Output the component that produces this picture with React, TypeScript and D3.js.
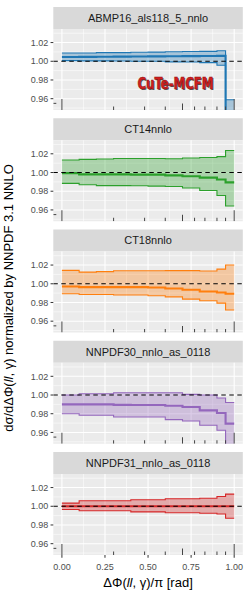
import React from "react";
import * as d3 from "d3";

// bin edges in dPhi/pi
const binEdges = [0, 0.1, 0.2, 0.3, 0.4, 0.5, 0.6, 0.7, 0.8, 0.9, 0.95, 1.0];

const pdfNames = [
  "ABMP16_als118_5_nnlo",
  "CT14nnlo",
  "CT18nnlo",
  "NNPDF30_nnlo_as_0118",
  "NNPDF31_nnlo_as_0118",
];
const pdfColors = ["#1f77b4", "#2ca02c", "#ff7f0e", "#9467bd", "#d62728"];

// ratio to NNPDF 3.1 NNLO, per bin
const abmpUpper = [1.0088, 1.0088, 1.0092, 1.0092, 1.0097, 1.0098, 1.0102, 1.0104, 1.0106, 1.0112, 0.9589];
const abmpCentral = [1.0046, 1.0047, 1.0049, 1.005, 1.0051, 1.0052, 1.0054, 1.0055, 1.0056, 1.0058, 0.93];
const abmpLower = [1.0007, 1.0004, 1.0004, 1.0003, 1.0, 1.0, 0.9994, 0.9992, 0.9986, 0.9957, 0.9];

const ct14Upper = [1.0134, 1.014, 1.0145, 1.015, 1.015, 1.015, 1.0148, 1.0155, 1.016, 1.017, 1.0236];
const ct14Central = [0.9993, 0.998, 0.998, 0.998, 0.9978, 0.9978, 0.997, 0.996, 0.9945, 0.9925, 0.9895];
const ct14Lower = [0.9884, 0.987, 0.986, 0.986, 0.9858, 0.9855, 0.985, 0.9835, 0.9807, 0.9755, 0.9642];

const ct18Upper = [1.0143, 1.0125, 1.013, 1.0139, 1.0139, 1.0139, 1.014, 1.014, 1.0136, 1.0157, 1.02];
const ct18Central = [0.9971, 0.9964, 0.9964, 0.9964, 0.9964, 0.996, 0.995, 0.9936, 0.9918, 0.9907, 0.9893];
const ct18Lower = [0.9893, 0.9886, 0.9886, 0.988, 0.988, 0.9872, 0.986, 0.9836, 0.9818, 0.9793, 0.972];

const nn30Upper = [1.0, 1.0014, 1.0014, 1.0025, 1.0025, 1.0025, 1.0025, 1.0007, 1.0, 0.9968, 0.992];
const nn30Central = [0.99, 0.99, 0.99, 0.9895, 0.9893, 0.9893, 0.9885, 0.9872, 0.9836, 0.9807, 0.9694];
const nn30Lower = [0.98, 0.9783, 0.9783, 0.9765, 0.9765, 0.9765, 0.9737, 0.9722, 0.9676, 0.9623, 0.94];

const nn31Upper = [1.0034, 1.0059, 1.0059, 1.0059, 1.007, 1.007, 1.008, 1.008, 1.0085, 1.0105, 1.013];
const nn31Central = [1, 1, 1, 1, 1, 1, 1, 1, 1, 1, 1];
const nn31Lower = [0.9966, 0.9952, 0.9952, 0.9952, 0.994, 0.994, 0.993, 0.993, 0.9925, 0.9917, 0.9872];

// rug marks along the bottom of every panel
const rugShortX = [0.3, 0.48, 0.6, 0.77, 0.83, 0.9, 0.95];
const rugMidX = [0.7];
const rugLongX = [0, 1.0];
const rugY = [0.955];

const xTicks = [0, 0.25, 0.5, 0.75, 1.0];
const xMinor = [0.125, 0.375, 0.625, 0.875];
const yTicks = [0.96, 0.98, 1.0, 1.02];
const yMinor = [0.95, 0.97, 0.99, 1.01, 1.03];

const series = [
  { upper: abmpUpper, central: abmpCentral, lower: abmpLower },
  { upper: ct14Upper, central: ct14Central, lower: ct14Lower },
  { upper: ct18Upper, central: ct18Central, lower: ct18Lower },
  { upper: nn30Upper, central: nn30Central, lower: nn30Lower },
  { upper: nn31Upper, central: nn31Central, lower: nn31Lower },
].map((s, i) => ({ ...s, name: pdfNames[i], color: pdfColors[i] }));

const W = 250;
const H = 600;
const left = 53.3;
const right = 242.8;
const firstStrip = 7;
const stripH = 22;
const panelH = 81;
const step = 111.25;
const font = "'Liberation Sans', Arial, Helvetica, sans-serif";

// make step points: one per bin start, plus closing point at last edge
const stepPts = (vals: number[]) => {
  const pts = vals.map((v, k) => ({ x: binEdges[k], v }));
  pts.push({ x: binEdges[binEdges.length - 1], v: vals[vals.length - 1] });
  return pts;
};

const App = () => {
  const x = d3.scaleLinear().domain([-0.05, 1.05]).range([left, right]);

  return (
    <svg
      width={W}
      height={H}
      style={{ position: "absolute", left: 0, top: 0, background: "#fff" }}
      fontFamily={font}
    >
      {series.map((s, i) => {
        const stripTop = firstStrip + i * step;
        const top = stripTop + stripH;
        const bottom = top + panelH;
        const y = d3.scaleLinear().domain([0.9479, 1.0345]).range([bottom, top]);
        const line = d3
          .line<{ x: number; v: number }>()
          .x((d) => x(d.x))
          .y((d) => y(d.v))
          .curve(d3.curveStepAfter);
        const lowerPts = stepPts(s.lower);
        const upperPts = stepPts(s.upper);
        const area = d3
          .area<{ x: number; v: number }>()
          .x((d) => x(d.x))
          .y0((d, k) => y(lowerPts[k].v))
          .y1((d) => y(d.v))
          .curve(d3.curveStepAfter);
        const clipId = `clip${i}`;
        return (
          <g key={s.name}>
            <defs>
              <clipPath id={clipId}>
                <rect x={left} y={top} width={right - left} height={panelH} />
              </clipPath>
            </defs>
            <rect x={left} y={stripTop} width={right - left} height={stripH} fill="#d9d9d9" />
            <text
              x={(left + right) / 2}
              y={stripTop + stripH / 2 + 3.9}
              textAnchor="middle"
              fontSize={11}
              fill="#1a1a1a"
            >
              {s.name}
            </text>
            <rect x={left} y={top} width={right - left} height={panelH} fill="#ebebeb" />
            {yMinor.map((t) => (
              <line key={"ym" + t} x1={left} x2={right} y1={y(t)} y2={y(t)} stroke="#fff" strokeWidth={0.55} />
            ))}
            {xMinor.map((t) => (
              <line key={"xm" + t} x1={x(t)} x2={x(t)} y1={top} y2={bottom} stroke="#fff" strokeWidth={0.55} />
            ))}
            {yTicks.map((t) => (
              <line key={"yg" + t} x1={left} x2={right} y1={y(t)} y2={y(t)} stroke="#fff" strokeWidth={1.1} />
            ))}
            {xTicks.map((t) => (
              <line key={"xg" + t} x1={x(t)} x2={x(t)} y1={top} y2={bottom} stroke="#fff" strokeWidth={1.1} />
            ))}
            <g clipPath={`url(#${clipId})`}>
              <path d={area(upperPts) || ""} fill={s.color} fillOpacity={0.33} />
              <path d={line(upperPts) || ""} fill="none" stroke={s.color} strokeWidth={1.1} />
              <path d={line(lowerPts) || ""} fill="none" stroke={s.color} strokeWidth={1.1} />
              <path d={line(stepPts(s.central)) || ""} fill="none" stroke={s.color} strokeWidth={2.1} />
              <line
                x1={left}
                x2={right}
                y1={y(1)}
                y2={y(1)}
                stroke="#000"
                strokeWidth={1.1}
                strokeDasharray="4.5,3.5"
              />
              {rugShortX.map((r) => (
                <line key={"rs" + r} x1={x(r)} x2={x(r)} y1={bottom} y2={bottom - 3.5} stroke="#444" strokeWidth={1} />
              ))}
              {rugMidX.map((r) => (
                <line key={"rm" + r} x1={x(r)} x2={x(r)} y1={bottom} y2={bottom - 6.5} stroke="#444" strokeWidth={1} />
              ))}
              {rugLongX.map((r) => (
                <line key={"rl" + r} x1={x(r)} x2={x(r)} y1={bottom} y2={bottom - 11} stroke="#444" strokeWidth={1} />
              ))}
              {rugY.map((r) => (
                <line key={"ry" + r} x1={left} x2={left + 3} y1={y(r)} y2={y(r)} stroke="#444" strokeWidth={1} />
              ))}
            </g>
            {yTicks.map((t) => (
              <g key={"yt" + t}>
                <line x1={left - 2.75} x2={left} y1={y(t)} y2={y(t)} stroke="#333" strokeWidth={1} />
                <text x={left - 5} y={y(t) + 3.2} textAnchor="end" fontSize={9} fill="#4d4d4d">
                  {d3.format(".2f")(t)}
                </text>
              </g>
            ))}
            {i === 0 && (
              <g>
                <text
                  x={176.5}
                  y={89.5}
                  textAnchor="middle"
                  fontSize={16}
                  fontWeight="bold"
                  fontFamily="'DejaVu Sans Condensed', 'DejaVu Sans', sans-serif"
                  fill="#555"
                  textLength={76}
                  lengthAdjust="spacingAndGlyphs"
                >
                  CuTe-MCFM
                </text>
                <text
                  x={175.5}
                  y={88.5}
                  textAnchor="middle"
                  fontSize={16}
                  fontWeight="bold"
                  fontFamily="'DejaVu Sans Condensed', 'DejaVu Sans', sans-serif"
                  fill="#d21f1f"
                  stroke="#8a1010"
                  strokeWidth={0.5}
                  textLength={76}
                  lengthAdjust="spacingAndGlyphs"
                >
                  CuTe-MCFM
                </text>
              </g>
            )}
            {i === series.length - 1 &&
              xTicks.map((t) => (
                <g key={"xt" + t}>
                  <line x1={x(t)} x2={x(t)} y1={bottom} y2={bottom + 2.75} stroke="#333" strokeWidth={1} />
                  <text x={x(t)} y={bottom + 15} textAnchor="middle" fontSize={9} fill="#4d4d4d">
                    {d3.format(".2f")(t)}
                  </text>
                </g>
              ))}
          </g>
        );
      })}
      <text x={(left + right) / 2} y={587} textAnchor="middle" fontSize={13} fill="#000">
        ΔΦ(<tspan fontStyle="italic">ll</tspan>, γ)/π [rad]
      </text>
      <text
        transform="translate(12.5,298) rotate(-90)"
        textAnchor="middle"
        fontSize={13}
        fill="#000"
      >
        dσ/dΔΦ(<tspan fontStyle="italic">ll</tspan>, γ) normalized by NNPDF 3.1 NNLO
      </text>
    </svg>
  );
};

export default App;
